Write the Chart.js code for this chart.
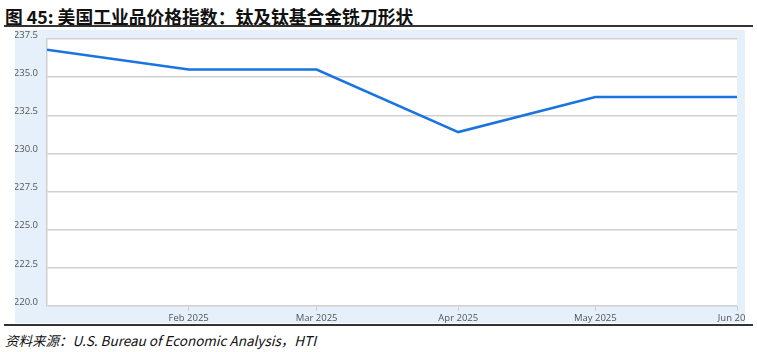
<!DOCTYPE html>
<html>
<head>
<meta charset="utf-8">
<script src="https://cdn.jsdelivr.net/npm/chart.js@4"></script>
<style>
  body { margin: 0; width: 757px; height: 352px; background: #fff; position: relative; overflow: hidden; }
  #title { position: absolute; left: 5px; top: 3px; font: bold 17.8px "Noto Sans CJK SC", sans-serif; color: #111; white-space: nowrap; }
  .rule { position: absolute; left: 4px; width: 749px; height: 1.5px; background: #333; }
  #wrap { position: absolute; left: 15px; top: 30px; width: 730px; height: 293px; background: #e6f0fa; }
  #source { position: absolute; left: 5px; top: 330px; font: italic 13.5px "Noto Sans CJK SC", sans-serif; color: #111; white-space: nowrap; }
</style>
</head>
<body>
<div id="title">图 45: 美国工业品价格指数：钛及钛基合金铣刀形状</div>
<div class="rule" style="top:25px"></div>
<div id="wrap"><canvas id="c" width="730" height="293"></canvas></div>
<div class="rule" style="top:324px"></div>
<div id="source">资料来源：U.S. Bureau of Economic Analysis，HTI</div>
<script>
// 月次データ（2025年1月1日からの日数）
const dayOffsets = [0, 31, 59, 90, 120, 151];
const values = [236.8, 235.5, 235.5, 231.4, 233.7, 233.7];

// 目盛り
const tickDays = [31, 59, 90, 120, 151];
const tickLabels = ['Feb 2025', 'Mar 2025', 'Apr 2025', 'May 2025', 'Jun 2025'];

// プロット領域を白で塗る
const plotBg = {
    id: 'plotBg',
    beforeDraw(chart) {
        const { ctx, chartArea: a } = chart;
        ctx.save();
        ctx.fillStyle = '#ffffff';
        ctx.fillRect(a.left, a.top, a.right - a.left, a.bottom - a.top);
        ctx.restore();
    }
};

new Chart(document.getElementById('c').getContext('2d'), {
    type: 'line',
    data: {
        datasets: [{
            data: dayOffsets.map((d, i) => ({ x: d, y: values[i] })),
            borderColor: '#1a74e0',
            borderWidth: 2.5,
            pointRadius: 0,
            tension: 0,
            fill: false
        }]
    },
    options: {
        responsive: false,
        animation: false,
        layout: { padding: { top: 9, right: 8, left: 0, bottom: 0 } },
        plugins: { legend: { display: false }, tooltip: { enabled: false } },
        scales: {
            x: {
                type: 'linear',
                min: 0,
                max: 151,
                afterBuildTicks: axis => { axis.ticks = tickDays.map(v => ({ value: v })); },
                afterFit: axis => { axis.height = 17; axis.paddingLeft = 0; axis.paddingRight = 0; },
                grid: { drawOnChartArea: false, tickLength: 5, color: '#cfcfcf', lineWidth: 1 },
                border: { display: false },
                ticks: {
                    autoSkip: false,
                    maxRotation: 0,
                    padding: 2,
                    color: '#555',
                    font: { family: 'Open Sans', size: 9.5 },
                    callback: (v, i) => tickLabels[i]
                }
            },
            y: {
                min: 220,
                max: 237.5,
                afterFit: axis => { axis.width = 32; axis.paddingTop = 0; axis.paddingBottom = 0; },
                grid: { color: '#d0d0d0', lineWidth: 1.5, drawTicks: false },
                border: { display: true, color: '#cfcfcf', width: 1.5 },
                ticks: {
                    stepSize: 2.5,
                    padding: 9,
                    labelOffset: -4,
                    color: '#555',
                    font: { family: 'Open Sans', size: 9.5 },
                    callback: v => v.toFixed(1)
                }
            }
        }
    },
    plugins: [plotBg]
});
</script>
</body>
</html>
